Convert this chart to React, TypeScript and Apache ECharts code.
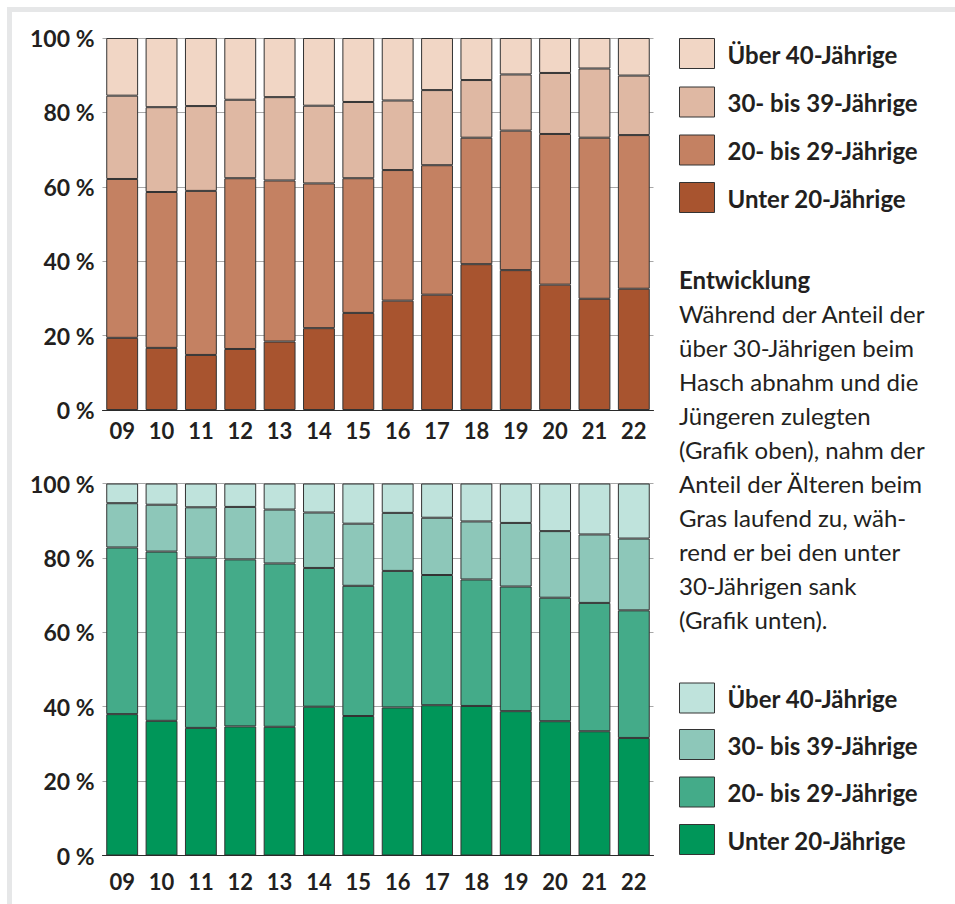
import React, { useEffect, useRef } from "react";
import * as echarts from "echarts";

const years = ["09", "10", "11", "12", "13", "14", "15", "16", "17", "18", "19", "20", "21", "22"];
const yTicks = [0, 20, 40, 60, 80, 100];

const groupNames = ["Unter 20-Jährige", "20- bis 29-Jährige", "30- bis 39-Jährige", "Über 40-Jährige"];

// Hasch (top chart), share in %
const haschUnter20 = [19.4, 16.7, 14.8, 16.4, 18.4, 22.0, 26.1, 29.4, 31.0, 39.2, 37.6, 33.7, 29.9, 32.6];
const hasch20bis29 = [42.7, 41.9, 44.1, 45.9, 43.3, 38.9, 36.2, 35.1, 34.8, 34.0, 37.5, 40.5, 43.3, 41.3];
const hasch30bis39 = [22.4, 22.8, 22.8, 21.1, 22.4, 20.9, 20.5, 18.7, 20.2, 15.5, 15.1, 16.4, 18.6, 16.0];
const haschUeber40 = [15.5, 18.6, 18.3, 16.6, 15.9, 18.2, 17.2, 16.8, 14.0, 11.3, 9.8, 9.4, 8.2, 10.1];

// Gras (bottom chart), share in %
const grasUnter20 = [38.0, 36.2, 34.3, 34.7, 34.6, 40.0, 37.5, 39.8, 40.4, 40.2, 38.8, 36.1, 33.4, 31.6];
const gras20bis29 = [44.8, 45.5, 45.8, 44.9, 43.9, 37.3, 35.0, 36.7, 35.0, 34.0, 33.5, 33.2, 34.5, 34.3];
const gras30bis39 = [11.9, 12.6, 13.5, 14.1, 14.5, 14.9, 16.7, 15.6, 15.4, 15.6, 17.1, 17.9, 18.4, 19.3];
const grasUeber40 = [5.3, 5.7, 6.4, 6.3, 7.0, 7.8, 10.8, 7.9, 9.2, 10.2, 10.6, 12.8, 13.7, 14.8];

const haschColors = ["#a8542f", "#c48162", "#dfb8a3", "#f1d6c5"];
const grasColors = ["#009659", "#44ab89", "#8dc7b9", "#bfe3dc"];

const textTitle = "Entwicklung";
const textLines = [
  "Während der Anteil der",
  "über 30-Jährigen beim",
  "Hasch abnahm und die",
  "Jüngeren zulegten",
  "(Grafik oben), nahm der",
  "Anteil der Älteren beim",
  "Gras laufend zu, wäh-",
  "rend er bei den unter",
  "30-Jährigen sank",
  "(Grafik unten).",
];

const FONT = "Lato, 'Noto Sans', sans-serif";
const INK = "#231f20";

export default function App() {
  const ref = useRef<HTMLDivElement>(null);

  useEffect(() => {
    if (!ref.current) return;
    const chart = echarts.init(ref.current, null, { renderer: "svg" });

    const grids = [
      { left: 102.5, right: 301.5, top: 38, height: 372 },
      { left: 102.5, right: 301.5, top: 483.5, height: 372 },
    ];

    const xAxes = grids.map((_, i) => ({
      type: "category",
      gridIndex: i,
      data: years,
      axisLine: { show: true, lineStyle: { color: "#2a2a2a", width: 1 } },
      axisTick: { show: false },
      axisLabel: {
        color: INK,
        fontFamily: FONT,
        fontWeight: "bold",
        fontSize: 22,
        margin: i === 0 ? 9 : 15,
      },
      z: 5,
    }));

    const yAxes = grids.map((_, i) => ({
      type: "value",
      gridIndex: i,
      min: 0,
      max: 100,
      interval: 20,
      axisLine: { show: false },
      axisTick: { show: false },
      splitLine: { show: true, lineStyle: { color: "#a8a8a8", width: 1 } },
      axisLabel: {
        color: INK,
        fontFamily: FONT,
        fontWeight: "bold",
        fontSize: 23,
        margin: 8,
        formatter: (v: number) => (yTicks.includes(v) ? `${v} %` : ""),
      },
    }));

    const haschData = [haschUnter20, hasch20bis29, hasch30bis39, haschUeber40];
    const grasData = [grasUnter20, gras20bis29, gras30bis39, grasUeber40];

    const mk = (data: number[][], colors: string[], idx: number) =>
      data.map((d, k) => ({
        name: groupNames[k],
        type: "bar",
        stack: "s" + idx,
        xAxisIndex: idx,
        yAxisIndex: idx,
        data: d,
        barCategoryGap: "19%",
        itemStyle: { color: colors[k], borderColor: "#333333", borderWidth: 1 },
        emphasis: { disabled: true },
      }));

    const series = [...mk(haschData, haschColors, 0), ...mk(grasData, grasColors, 1)];

    const legendTopY = [38, 86.5, 134.5, 182];
    const legendBotY = [682.5, 729, 776.5, 824];
    const graphic: any[] = [];
    const addLegend = (ys: number[], colors: string[]) => {
      ys.forEach((y, r) => {
        const k = 3 - r;
        graphic.push({
          type: "rect",
          shape: { x: 679.5, y: y + 0.5, width: 35, height: 30 },
          style: { fill: colors[k], stroke: "#333333", lineWidth: 1 },
        });
        graphic.push({
          type: "text",
          style: {
            text: groupNames[k],
            x: 727.5,
            y: y + 16,
            fill: INK,
            font: `bold 24px ${FONT}`,
            verticalAlign: "middle",
            align: "left",
          },
        });
      });
    };
    addLegend(legendTopY, haschColors);
    addLegend(legendBotY, grasColors);

    graphic.push({
      type: "text",
      style: {
        text: textTitle,
        x: 679,
        y: 279,
        fill: INK,
        font: `bold 24px ${FONT}`,
        verticalAlign: "middle",
      },
    });
    textLines.forEach((t, i) => {
      graphic.push({
        type: "text",
        style: {
          text: t,
          x: 679,
          y: 313 + i * 34,
          fill: INK,
          font: `24px ${FONT}`,
          verticalAlign: "middle",
        },
      });
    });

    chart.setOption({
      animation: false,
      grid: grids,
      xAxis: xAxes,
      yAxis: yAxes,
      series,
      graphic,
    });

    return () => chart.dispose();
  }, []);

  return (
    <div style={{ position: "absolute", left: 0, top: 0, width: 955, height: 904, background: "#ffffff", overflow: "hidden" }}>
      <div
        style={{
          position: "absolute",
          left: 7,
          top: 7,
          width: 960,
          height: 920,
          boxSizing: "border-box",
          border: "5px solid #e6e7e8",
          background: "#ffffff",
        }}
      />
      <div ref={ref} style={{ position: "absolute", left: 0, top: 0, width: 955, height: 904 }} />
    </div>
  );
}
